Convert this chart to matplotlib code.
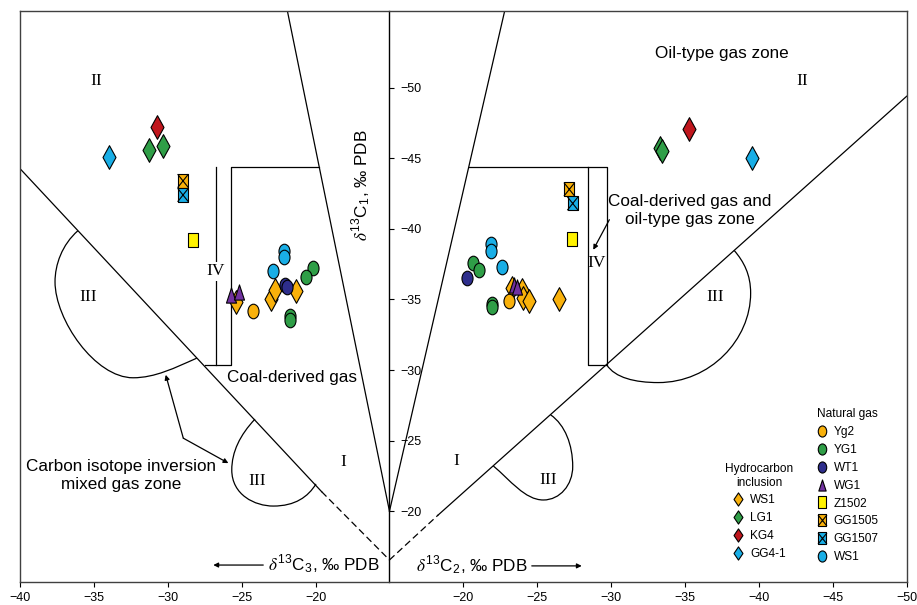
import numpy as np
import matplotlib
matplotlib.use('Agg')
import matplotlib.pyplot as plt
from matplotlib.path import Path
from matplotlib.patches import PathPatch
from matplotlib.lines import Line2D

plt.rcParams['font.family'] = 'Liberation Sans'
plt.rcParams['mathtext.fontset'] = 'stix'

# ---- values ----
# left half: d13C3 (x) vs d13C1 (y); right half: d13C2 (x) vs d13C1 (y)
# natural gas
ng_yg2_L = ([-24.2], [-34.2])
ng_yg1_L = ([-20.15, -20.67, -21.73, -21.73], [-37.2, -36.6, -33.85, -33.55])
ng_wt1_L = ([-22.07, -21.9], [-36.0, -35.85])
ng_wg1_L = ([-25.7, -25.2], [-35.3, -35.5])
ng_z1502_L = ([-28.27], [-39.2])
ng_gg1505_L = ([-28.97], [-43.4])
ng_gg1507_L = ([-28.97], [-42.4])
ng_ws1_L = ([-22.14, -22.14, -22.86], [-38.4, -38.0, -37.0])

ng_yg2_R = ([-23.09], [-34.9])
ng_yg1_R = ([-20.67, -21.08, -21.94, -21.94], [-37.6, -37.1, -34.65, -34.45])
ng_wt1_R = ([-20.23], [-36.5])
ng_wg1_R = ([-23.4, -23.6], [-36.0, -35.9])
ng_z1502_R = ([-27.33], [-39.3])
ng_gg1505_R = ([-27.17], [-42.8])
ng_gg1507_R = ([-27.4], [-41.8])
ng_ws1_R = ([-21.9, -21.9, -22.64], [-38.9, -38.4, -37.3])

# hydrocarbon inclusions
inc_ws1_L = ([-25.4, -23.0, -22.75, -21.3], [-34.8, -35.0, -35.7, -35.6])
inc_lg1_L = ([-31.3, -30.3], [-45.6, -45.9])
inc_kg4_L = ([-30.75], [-47.2])
inc_gg41_L = ([-34.0], [-45.1])

inc_ws1_R = ([-23.3, -23.95, -24.06, -24.46, -26.5], [-35.8, -35.7, -35.1, -34.9, -35.05])
inc_lg1_R = ([-33.3, -33.45], [-45.7, -45.55])
inc_kg4_R = ([-35.3], [-47.1])
inc_gg41_R = ([-39.5], [-45.0])

ng_labels = ['Yg2', 'YG1', 'WT1', 'WG1', 'Z1502', 'GG1505', 'GG1507', 'WS1']
inc_labels = ['WS1', 'LG1', 'KG4', 'GG4-1']

c3_ticks = [-40, -35, -30, -25, -20]
c2_ticks = [-20, -25, -30, -35, -40, -45, -50]
c1_ticks = [-50, -45, -40, -35, -30, -25, -20]

# zone boundaries of the genetic diagram
L_diag = [(-40, -44.27), (-19.59, -21.38)]
L_diag_dash = [(-19.59, -21.38), (-15, -16.54)]
L_steep = [(-21.91, -55.46), (-15, -20)]
L_box = [(-27.47, -30.37), (-25.74, -30.37), (-25.74, -44.39), (-19.75, -44.39)]
L_box_outer = [(-26.74, -30.37), (-26.74, -44.39)]
L_III_up = [(-36.08, -39.87), (-37.16, -38.88), (-37.63, -37.46), (-37.63, -36.25),
            (-37.63, -33.56), (-34.92, -29.45), (-32.35, -29.45),
            (-30.86, -29.45), (-29.51, -30.16), (-28.04, -30.84)]
L_III_low = [(-24.10, -26.52), (-25.11, -25.40), (-25.67, -24.20), (-25.67, -22.92),
             (-25.67, -21.15), (-24.10, -20.36), (-22.86, -20.36),
             (-21.39, -20.36), (-20.51, -21.01), (-19.97, -21.93)]

R_diag_dash = [(-15, -16.54), (-18.3, -19.73)]
R_diag = [(-18.3, -19.73), (-50, -49.4)]
R_steep = [(-15, -20), (-22.8, -55.46)]
R_box = [(-20.37, -44.39), (-29.7, -44.39), (-29.7, -30.37), (-28.46, -30.37), (-28.46, -44.39)]
R_III_low = [(-22.03, -23.20), (-23.16, -22.21), (-24.17, -20.79), (-25.41, -20.79),
             (-26.54, -20.79), (-27.40, -21.86), (-27.40, -23.16),
             (-27.40, -24.70), (-26.88, -26.11), (-25.91, -26.82)]
R_III_up = [(-29.70, -30.37), (-30.26, -29.45), (-31.62, -29.11), (-33.19, -29.11),
            (-36.69, -29.11), (-39.44, -32.14), (-39.44, -35.45),
            (-39.44, -36.75), (-38.99, -37.67), (-38.32, -38.48)]


# both halves share one axis: u = 0..25 is d13C3 -40..-15, u = 25..60 is d13C2 -15..-50
def uL(c3):
    return np.asarray(c3, dtype=float) + 40


def uR(c2):
    return 10 - np.asarray(c2, dtype=float)


orange = '#F9B10B'
green = '#2F9E47'
navy = '#2E2E8C'
purple = '#7131A0'
yellow = '#FFF200'
ltblue = '#19AEE6'
red = '#C0161D'

# marker shapes (slightly tall, as in the original)
uc = Path.unit_circle()
m_ell = Path(uc.vertices * [0.76, 1.0], uc.codes)
m_dia = Path([(0, 1), (0.55, 0), (0, -1), (-0.55, 0), (0, 1)],
             [Path.MOVETO, Path.LINETO, Path.LINETO, Path.LINETO, Path.CLOSEPOLY])
m_dia_leg = Path([(0, 1), (0.68, 0), (0, -1), (-0.68, 0), (0, 1)],
                 [Path.MOVETO, Path.LINETO, Path.LINETO, Path.LINETO, Path.CLOSEPOLY])
m_tri = Path([(0, 1), (0.66, -1), (-0.66, -1), (0, 1)],
             [Path.MOVETO, Path.LINETO, Path.LINETO, Path.CLOSEPOLY])
m_rect = Path([(-0.8, -1), (0.8, -1), (0.8, 1), (-0.8, 1), (-0.8, -1)],
              [Path.MOVETO, Path.LINETO, Path.LINETO, Path.LINETO, Path.CLOSEPOLY])
m_x = Path([(-0.8, -1), (0.8, 1), (-0.8, 1), (0.8, -1)],
           [Path.MOVETO, Path.LINETO, Path.MOVETO, Path.LINETO])

fig = plt.figure(figsize=(9.17, 6.05), dpi=100)
ax = fig.add_axes([0.02181, 0.03851, 0.96696, 0.94380])
ax.set_xlim(0, 60)
ax.set_ylim(-15, -55.46)

lw = 0.9


def seg(pts, f, **kw):
    xs, ys = zip(*pts)
    ax.plot(f(xs), ys, color='k', lw=lw, zorder=1.5, **kw)


def curve(pts, f):
    p = np.array(pts, dtype=float)
    v = np.column_stack([f(p[:, 0]), p[:, 1]])
    codes = [Path.MOVETO] + [Path.CURVE4] * (len(v) - 1)
    ax.add_patch(PathPatch(Path(v, codes), fill=False, lw=lw, ec='k', zorder=1.5))


dash = (0, (5.5, 3))
seg(L_diag, uL)
seg(L_diag_dash, uL, ls=dash)
seg(L_steep, uL)
seg(L_box, uL)
seg(L_box_outer, uL)
curve(L_III_up, uL)
curve(L_III_low, uL)
seg(R_diag_dash, uR, ls=dash)
seg(R_diag, uR)
seg(R_steep, uR)
seg(R_box, uR)
curve(R_III_low, uR)
curve(R_III_up, uR)


def put(pts_L, pts_R, marker, color, size, z, ec='k'):
    for (xs, ys), f in ((pts_L, uL), (pts_R, uR)):
        ax.scatter(f(xs), ys, marker=marker, s=size, c=color, edgecolors=ec,
                   linewidths=0.8, zorder=z)


put(inc_ws1_L, inc_ws1_R, m_dia, orange, 290, 3)
put(inc_lg1_L, inc_lg1_R, m_dia, green, 290, 3)
put(inc_kg4_L, inc_kg4_R, m_dia, red, 290, 3)
put(inc_gg41_L, inc_gg41_R, m_dia, ltblue, 290, 3)
put(ng_yg2_L, ng_yg2_R, m_ell, orange, 110, 4)
put(ng_yg1_L, ng_yg1_R, m_ell, green, 110, 4)
put(ng_ws1_L, ng_ws1_R, m_ell, ltblue, 110, 4)
put(ng_wt1_L, ng_wt1_R, m_ell, navy, 110, 4)
put(ng_wg1_L, ng_wg1_R, m_tri, purple, 120, 5)
put(ng_z1502_L, ng_z1502_R, m_rect, yellow, 95, 4)
put(ng_gg1505_L, ng_gg1505_R, m_rect, orange, 95, 4)
put(ng_gg1505_L, ng_gg1505_R, m_x, 'none', 95, 4.1)
put(ng_gg1507_L, ng_gg1507_R, m_rect, ltblue, 95, 4)
put(ng_gg1507_L, ng_gg1507_R, m_x, 'none', 95, 4.1)

# frame and the central d13C1 axis
for s in ['top', 'left', 'bottom']:
    ax.spines[s].set_color('#404040')
    ax.spines[s].set_linewidth(1.0)
ax.spines['right'].set_position(('data', 25))
ax.spines['right'].set_color('k')
ax.spines['right'].set_linewidth(1.0)
ax.axvline(60, color='#404040', lw=1.0, clip_on=False)
ax.yaxis.set_ticks_position('right')
ax.set_yticks(c1_ticks)
ax.set_yticklabels(['\u2212%d' % abs(t) for t in c1_ticks])
ax.tick_params(axis='y', direction='out', length=3.6, width=0.8, pad=4.5, labelsize=9)
ax.set_xticks(list(uL(c3_ticks)) + list(uR(c2_ticks)))
ax.set_xticklabels(['\u2212%d' % abs(t) for t in c3_ticks + c2_ticks])
ax.tick_params(axis='x', direction='out', length=3.6, width=0.8, pad=3.5, labelsize=9)

ax.text(uL(-16.86), -43.07, r'$\delta^{\mathregular{13}}$C$_{\mathregular{1}}$, ‰ PDB',
        rotation=90, ha='center', va='center', fontsize=12.3)
ax.text(uL(-19.47), -16.18, r'$\delta^{\mathregular{13}}$C$_{\mathregular{3}}$, ‰ PDB',
        ha='center', va='center', fontsize=12.3)
ax.text(uR(-20.57), -16.12, r'$\delta^{\mathregular{13}}$C$_{\mathregular{2}}$, ‰ PDB',
        ha='center', va='center', fontsize=12.3)

arr = dict(arrowstyle='-|>', color='k', lw=0.9, mutation_scale=7, shrinkA=0, shrinkB=0)
ax.annotate('', xy=(uL(-26.92), -16.18), xytext=(uL(-23.54), -16.18), arrowprops=arr)
ax.annotate('', xy=(uR(-28.01), -16.12), xytext=(uR(-24.63), -16.12), arrowprops=arr)
ax.annotate('', xy=(uL(-30.14), -29.66), xytext=(uL(-28.95), -25.17), arrowprops=arr)
ax.annotate('', xy=(uL(-25.9), -23.40), xytext=(uL(-28.95), -25.17), arrowprops=arr)
ax.annotate('', xy=(uR(-28.79), -38.52), xytext=(uR(-29.88), -40.65), arrowprops=arr)

ft = 12.3
ax.text(uR(-37.52), -52.4, 'Oil-type gas zone', ha='center', va='center', fontsize=ft)
ax.text(uR(-35.34), -41.3, 'Coal-derived gas and\noil-type gas zone', ha='center',
        va='center', fontsize=ft, linespacing=1.3)
ax.text(uL(-21.61), -29.5, 'Coal-derived gas', ha='center', va='center', fontsize=ft)
ax.text(uL(-33.17), -22.53, 'Carbon isotope inversion\nmixed gas zone', ha='center',
        va='center', fontsize=ft, linespacing=1.3)

rom = dict(ha='center', va='center', fontsize=12.5, family='Liberation Serif')
ax.text(uL(-34.81), -50.46, 'II', **rom)
ax.text(uR(-42.94), -50.46, 'II', **rom)
ax.text(uL(-26.74), -36.99, 'IV', bbox=dict(fc='white', ec='none', pad=1), zorder=2, **rom)
ax.text(uR(-29.02), -37.58, 'IV', **rom)
ax.text(uL(-35.4), -35.19, 'III', **rom)
ax.text(uL(-23.92), -22.16, 'III', **rom)
ax.text(uR(-25.75), -22.21, 'III', **rom)
ax.text(uR(-37.03), -35.17, 'III', **rom)
ax.text(uL(-18.12), -23.51, 'I', **rom)
ax.text(uR(-19.5), -23.56, 'I', **rom)

# legends
def h(marker, color, ms):
    return Line2D([], [], ls='none', marker=marker, ms=ms, mfc=color, mec='k', mew=0.8)


ng_handles = [h(m_ell, orange, 8), h(m_ell, green, 8), h(m_ell, navy, 8),
              h(m_tri, purple, 8), h(m_rect, yellow, 8),
              (h(m_rect, orange, 8), h(m_x, 'none', 8)),
              (h(m_rect, ltblue, 8), h(m_x, 'none', 8)),
              h(m_ell, ltblue, 8)]
inc_handles = [h(m_dia_leg, orange, 9.5), h(m_dia_leg, green, 9.5),
               h(m_dia_leg, red, 9.5), h(m_dia_leg, ltblue, 9.5)]

lg = dict(loc='upper left', frameon=False, fontsize=8.6, title_fontsize=8.6,
          handlelength=1.0, handletextpad=0.5, labelspacing=0.49, borderpad=0.4)
leg1 = fig.legend(ng_handles, ng_labels, title='Natural gas',
                  bbox_to_anchor=(805 / 917, 1 - 397.6 / 605), **lg)
leg2 = fig.legend(inc_handles, inc_labels, title='Hydrocarbon\ninclusion',
                  bbox_to_anchor=(714.3 / 917, 1 - 452 / 605), **lg)
leg2.get_title().set_multialignment('center')

fig.savefig('out.png', dpi=100)
